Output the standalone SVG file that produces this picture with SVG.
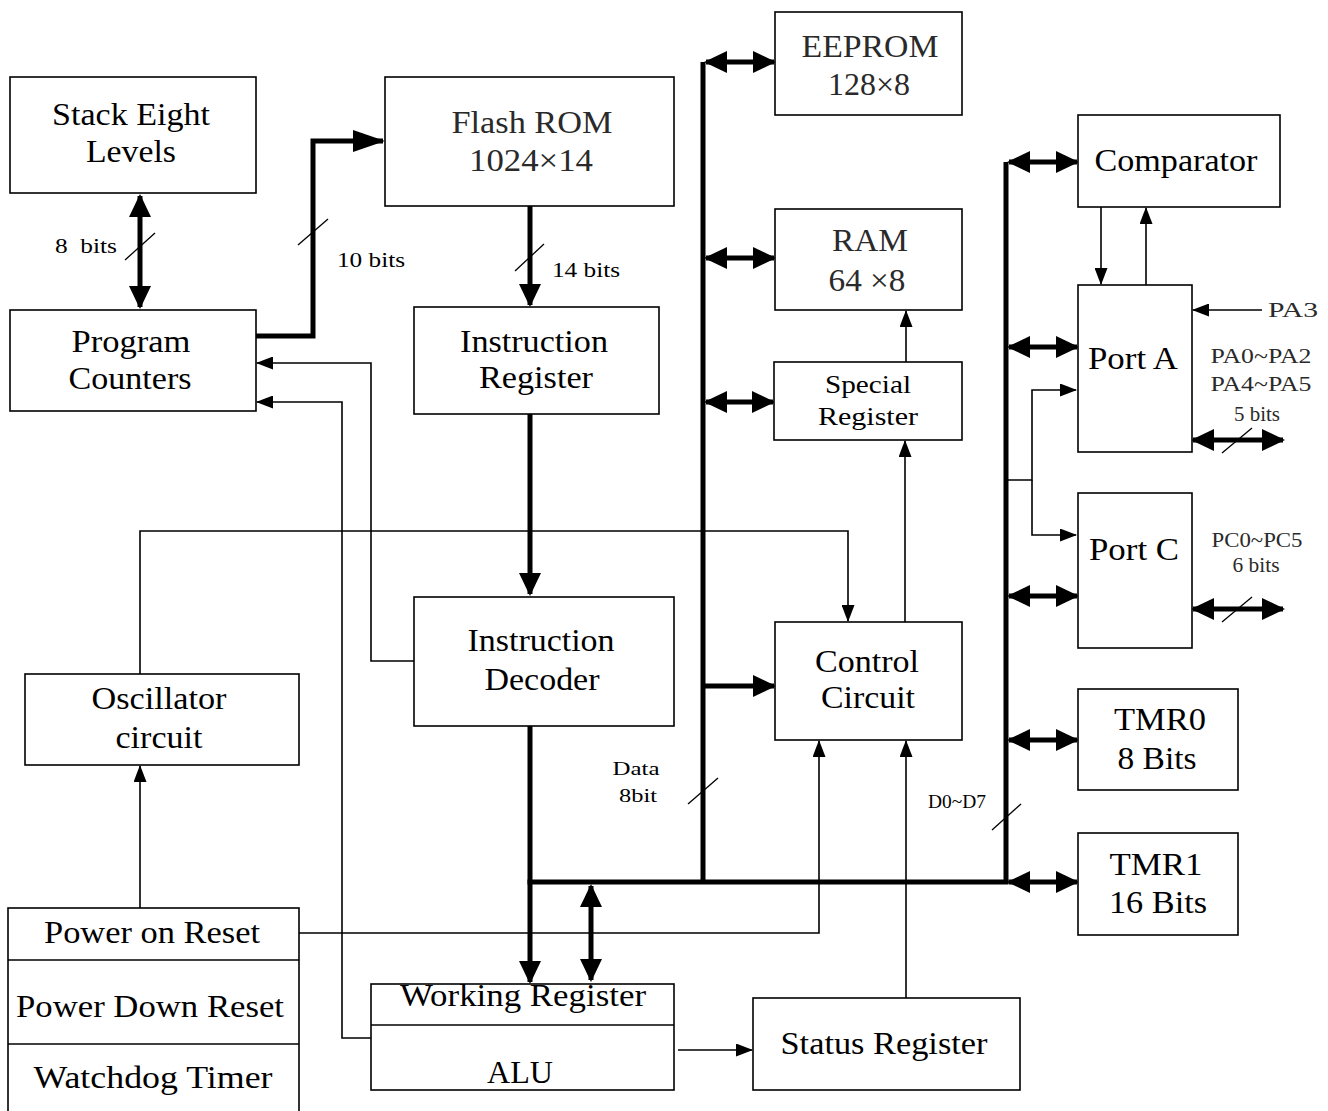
<svg xmlns="http://www.w3.org/2000/svg" width="1328" height="1111" viewBox="0 0 1328 1111">
<style>
.box{fill:#fff;stroke:#000;stroke-width:1.6}
.div{stroke:#000;stroke-width:1.6}
text{font-family:"Liberation Serif","Times New Roman",serif;fill:#000;text-anchor:middle}
.big{font-size:31px}
.mid{font-size:26px}
.sm{font-size:20px}
.xs{font-size:18px}
.gray{fill:#2a2a2a}
.thick{fill:none;stroke:#000;stroke-width:5}
.thin{fill:none;stroke:#000;stroke-width:1.6}
.slash{stroke:#000;stroke-width:1.3}
</style>
<defs>
<marker id="big" markerUnits="userSpaceOnUse" markerWidth="23" markerHeight="22" refX="21" refY="11" orient="auto-start-reverse">
<path d="M0,0 L23,11 L0,22 z" fill="#000"/>
</marker>
<marker id="long" markerUnits="userSpaceOnUse" markerWidth="32" markerHeight="22" refX="30" refY="11" orient="auto-start-reverse">
<path d="M0,0 L32,11 L0,22 z" fill="#000"/>
</marker>
<marker id="sm" markerUnits="userSpaceOnUse" markerWidth="17" markerHeight="13" refX="16" refY="6.5" orient="auto-start-reverse">
<path d="M0,0 L17,6.5 L0,13 z" fill="#000"/>
</marker>
</defs>
<rect width="1328" height="1111" fill="#fff"/>

<g id="connectors">
<!-- thick -->
<line class="thick" x1="140" y1="196" x2="140" y2="307" marker-start="url(#big)" marker-end="url(#big)"/>
<path class="thick" d="M256,336 H313 V141 H383" marker-end="url(#long)"/>
<line class="thick" x1="530" y1="206" x2="530" y2="305" marker-end="url(#big)"/>
<line class="thick" x1="530" y1="414" x2="530" y2="594" marker-end="url(#big)"/>
<line class="thick" x1="530" y1="726" x2="530" y2="982" marker-end="url(#big)"/>
<line class="thick" x1="527.5" y1="882" x2="1008.5" y2="882"/>
<line class="thick" x1="591" y1="886" x2="591" y2="980" marker-start="url(#big)" marker-end="url(#big)"/>
<line class="thick" x1="703" y1="62" x2="703" y2="884"/>
<line class="thick" x1="706" y1="62" x2="774" y2="62" marker-start="url(#big)" marker-end="url(#big)"/>
<line class="thick" x1="706" y1="258" x2="774" y2="258" marker-start="url(#big)" marker-end="url(#big)"/>
<line class="thick" x1="706" y1="402" x2="773" y2="402" marker-start="url(#big)" marker-end="url(#big)"/>
<line class="thick" x1="703" y1="686" x2="774" y2="686" marker-end="url(#big)"/>
<line class="thick" x1="1006" y1="162" x2="1006" y2="884"/>
<line class="thick" x1="1009" y1="162" x2="1077" y2="162" marker-start="url(#big)" marker-end="url(#big)"/>
<line class="thick" x1="1009" y1="347" x2="1077" y2="347" marker-start="url(#big)" marker-end="url(#big)"/>
<line class="thick" x1="1009" y1="596" x2="1077" y2="596" marker-start="url(#big)" marker-end="url(#big)"/>
<line class="thick" x1="1009" y1="740" x2="1077" y2="740" marker-start="url(#big)" marker-end="url(#big)"/>
<line class="thick" x1="1009" y1="882" x2="1077" y2="882" marker-start="url(#big)" marker-end="url(#big)"/>
<line class="thick" x1="1193" y1="440" x2="1283" y2="440" marker-start="url(#big)" marker-end="url(#big)"/>
<line class="thick" x1="1193" y1="609" x2="1283" y2="609" marker-start="url(#big)" marker-end="url(#big)"/>
<!-- thin -->
<path class="thin" d="M1006,480 H1032 V390 H1076" marker-end="url(#sm)"/>
<path class="thin" d="M1032,480 V535 H1076" marker-end="url(#sm)"/>
<line class="thin" x1="1101" y1="207" x2="1101" y2="284" marker-end="url(#sm)"/>
<line class="thin" x1="1146" y1="285" x2="1146" y2="208" marker-end="url(#sm)"/>
<line class="thin" x1="1262" y1="310" x2="1193" y2="310" marker-end="url(#sm)"/>
<line class="thin" x1="906" y1="362" x2="906" y2="311" marker-end="url(#sm)"/>
<line class="thin" x1="905" y1="622" x2="905" y2="441" marker-end="url(#sm)"/>
<path class="thin" d="M140,674 V531 H848 V621" marker-end="url(#sm)"/>
<path class="thin" d="M414,661 H371 V363 H257" marker-end="url(#sm)"/>
<path class="thin" d="M371,1038 H342 V402 H257" marker-end="url(#sm)"/>
<path class="thin" d="M299,933 H819 V741" marker-end="url(#sm)"/>
<line class="thin" x1="906" y1="998" x2="906" y2="741" marker-end="url(#sm)"/>
<line class="thin" x1="140" y1="908" x2="140" y2="766" marker-end="url(#sm)"/>
<line class="thin" x1="678" y1="1050" x2="752" y2="1050" marker-end="url(#sm)"/>
<!-- bus width slashes -->
<line class="slash" x1="125" y1="260" x2="155" y2="233"/>
<line class="slash" x1="298" y1="245" x2="328" y2="219"/>
<line class="slash" x1="515" y1="271" x2="544" y2="244"/>
<line class="slash" x1="688" y1="804" x2="718" y2="778"/>
<line class="slash" x1="992" y1="830" x2="1021" y2="804"/>
<line class="slash" x1="1222" y1="453" x2="1252" y2="428"/>
<line class="slash" x1="1222" y1="622" x2="1252" y2="597"/>
</g>

<g id="stack">
<rect class="box" x="10" y="77" width="246" height="116"/>
<text class="big" x="131" y="125" textLength="158" lengthAdjust="spacingAndGlyphs">Stack Eight</text>
<text class="big" x="131" y="162" textLength="90" lengthAdjust="spacingAndGlyphs">Levels</text>
</g>
<g id="program-counters">
<rect class="box" x="10" y="310" width="246" height="101"/>
<text class="big" x="131" y="352" textLength="119" lengthAdjust="spacingAndGlyphs">Program</text>
<text class="big" x="130" y="389" textLength="123" lengthAdjust="spacingAndGlyphs">Counters</text>
</g>
<g id="flash-rom">
<rect class="box" x="385" y="77" width="289" height="129"/>
<text class="big gray" x="532" y="133" textLength="161" lengthAdjust="spacingAndGlyphs">Flash ROM</text>
<text class="big gray" x="531" y="171" textLength="124" lengthAdjust="spacingAndGlyphs">1024×14</text>
</g>
<g id="instruction-register">
<rect class="box" x="414" y="307" width="245" height="107"/>
<text class="big" x="534" y="352" textLength="148" lengthAdjust="spacingAndGlyphs">Instruction</text>
<text class="big" x="536" y="388" textLength="114" lengthAdjust="spacingAndGlyphs">Register</text>
</g>
<g id="instruction-decoder">
<rect class="box" x="414" y="597" width="260" height="129"/>
<text class="big" x="541" y="651" textLength="147" lengthAdjust="spacingAndGlyphs">Instruction</text>
<text class="big" x="542" y="690" textLength="115" lengthAdjust="spacingAndGlyphs">Decoder</text>
</g>
<g id="eeprom">
<rect class="box" x="775" y="12" width="187" height="103"/>
<text class="big gray" x="870" y="57" textLength="137" lengthAdjust="spacingAndGlyphs">EEPROM</text>
<text class="big gray" x="869" y="95" textLength="82" lengthAdjust="spacingAndGlyphs">128×8</text>
</g>
<g id="ram">
<rect class="box" x="775" y="209" width="187" height="101"/>
<text class="big gray" x="870" y="251" textLength="76" lengthAdjust="spacingAndGlyphs">RAM</text>
<text class="big gray" x="867" y="291" textLength="77" lengthAdjust="spacingAndGlyphs">64 ×8</text>
</g>
<g id="special-register">
<rect class="box" x="774" y="362" width="188" height="78"/>
<text class="mid" x="868" y="393" textLength="86" lengthAdjust="spacingAndGlyphs">Special</text>
<text class="mid" x="868" y="425" textLength="100" lengthAdjust="spacingAndGlyphs">Register</text>
</g>
<g id="control-circuit">
<rect class="box" x="775" y="622" width="187" height="118"/>
<text class="big" x="867" y="672" textLength="104" lengthAdjust="spacingAndGlyphs">Control</text>
<text class="big" x="868" y="708" textLength="94" lengthAdjust="spacingAndGlyphs">Circuit</text>
</g>
<g id="comparator">
<rect class="box" x="1078" y="115" width="202" height="92"/>
<text class="big" x="1176" y="171" textLength="163" lengthAdjust="spacingAndGlyphs">Comparator</text>
</g>
<g id="port-a">
<rect class="box" x="1078" y="285" width="114" height="167"/>
<text class="big" x="1133" y="369" textLength="90" lengthAdjust="spacingAndGlyphs">Port A</text>
</g>
<g id="port-c">
<rect class="box" x="1078" y="493" width="114" height="155"/>
<text class="big" x="1134" y="560" textLength="90" lengthAdjust="spacingAndGlyphs">Port C</text>
</g>
<g id="tmr0">
<rect class="box" x="1078" y="689" width="160" height="101"/>
<text class="big" x="1160" y="730" textLength="92" lengthAdjust="spacingAndGlyphs">TMR0</text>
<text class="big" x="1157" y="769" textLength="79" lengthAdjust="spacingAndGlyphs">8 Bits</text>
</g>
<g id="tmr1">
<rect class="box" x="1078" y="833" width="160" height="102"/>
<text class="big" x="1156" y="875" textLength="93" lengthAdjust="spacingAndGlyphs">TMR1</text>
<text class="big" x="1158" y="913" textLength="98" lengthAdjust="spacingAndGlyphs">16 Bits</text>
</g>
<g id="oscillator">
<rect class="box" x="25" y="674" width="274" height="91"/>
<text class="big" x="159" y="709" textLength="135" lengthAdjust="spacingAndGlyphs">Oscillator</text>
<text class="big" x="159" y="748" textLength="87" lengthAdjust="spacingAndGlyphs">circuit</text>
</g>
<g id="reset-block">
<rect class="box" x="8" y="908" width="291" height="210"/>
<line class="div" x1="8" y1="960" x2="299" y2="960"/>
<line class="div" x1="8" y1="1044" x2="299" y2="1044"/>
<text class="big" x="152" y="943" textLength="216" lengthAdjust="spacingAndGlyphs">Power on Reset</text>
<text class="big" x="150" y="1017" textLength="268" lengthAdjust="spacingAndGlyphs">Power Down Reset</text>
<text class="big" x="153" y="1088" textLength="239" lengthAdjust="spacingAndGlyphs">Watchdog Timer</text>
</g>
<g id="working-register-alu">
<rect class="box" x="371" y="984" width="303" height="106"/>
<line class="div" x1="371" y1="1025" x2="674" y2="1025"/>
<text class="big" x="523" y="1006" textLength="246" lengthAdjust="spacingAndGlyphs">Working Register</text>
<text class="big" x="520" y="1083" textLength="66" lengthAdjust="spacingAndGlyphs">ALU</text>
</g>
<g id="status-register">
<rect class="box" x="753" y="998" width="267" height="92"/>
<text class="big" x="884" y="1054" textLength="207" lengthAdjust="spacingAndGlyphs">Status Register</text>
</g>

<g id="labels">
<text class="sm" x="86" y="253" textLength="62" lengthAdjust="spacingAndGlyphs" xml:space="preserve">8  bits</text>
<text class="sm" x="371" y="267" textLength="68" lengthAdjust="spacingAndGlyphs">10 bits</text>
<text class="sm" x="586" y="277" textLength="68" lengthAdjust="spacingAndGlyphs">14 bits</text>
<text class="sm gray" x="1293" y="317" textLength="50" lengthAdjust="spacingAndGlyphs">PA3</text>
<text class="sm gray" x="1261" y="363" textLength="101" lengthAdjust="spacingAndGlyphs">PA0~PA2</text>
<text class="sm gray" x="1261" y="391" textLength="101" lengthAdjust="spacingAndGlyphs">PA4~PA5</text>
<text class="sm gray" x="1257" y="421" textLength="46" lengthAdjust="spacingAndGlyphs">5 bits</text>
<text class="sm gray" x="1257" y="547" textLength="91" lengthAdjust="spacingAndGlyphs">PC0~PC5</text>
<text class="sm gray" x="1256" y="572" textLength="47" lengthAdjust="spacingAndGlyphs">6 bits</text>
<text class="xs" x="636" y="775" textLength="47" lengthAdjust="spacingAndGlyphs">Data</text>
<text class="xs" x="638" y="802" textLength="38" lengthAdjust="spacingAndGlyphs">8bit</text>
<text class="xs" x="957" y="808" textLength="58" lengthAdjust="spacingAndGlyphs">D0~D7</text>
</g>
</svg>
